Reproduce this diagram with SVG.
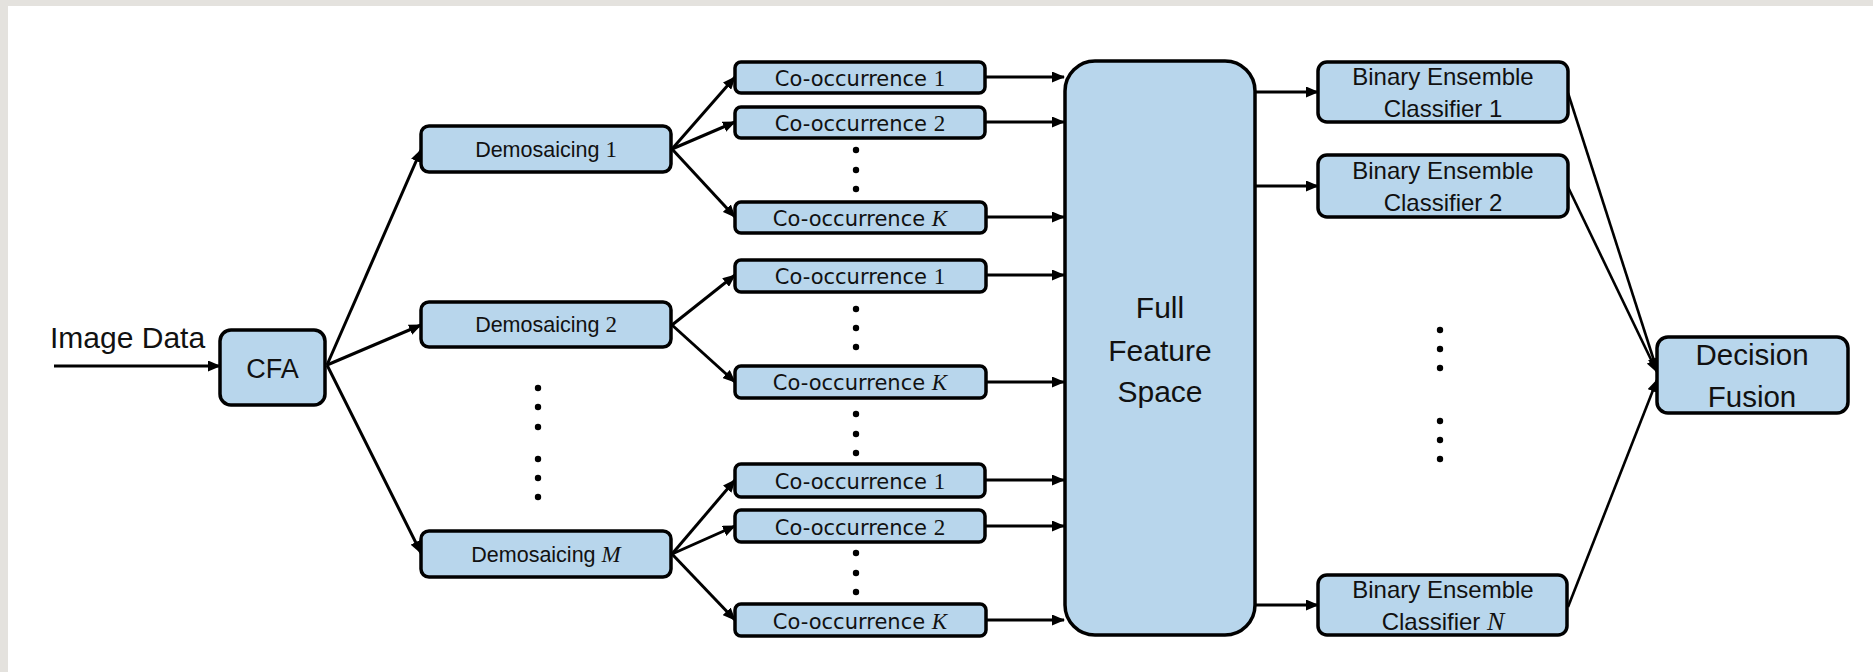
<svg xmlns="http://www.w3.org/2000/svg" width="1873" height="672" viewBox="0 0 1873 672">
<defs>
<marker id="ah" markerUnits="userSpaceOnUse" markerWidth="13" markerHeight="11" refX="12" refY="5.5" orient="auto">
<path d="M0,0 L13,5.5 L0,11 z" fill="#000"/>
</marker>
<style>
.box{fill:#b8d6ec;stroke:#000;stroke-width:3.5}
.ln{stroke:#000;stroke-width:3;fill:none;marker-end:url(#ah)}
.ln2{stroke:#000;stroke-width:2.6;fill:none;marker-end:url(#ah)}
.sans{font-family:"Liberation Sans",Arial,sans-serif;fill:#111}
.dv{font-family:"DejaVu Sans",Verdana,sans-serif;fill:#111}
.ser{font-family:"Liberation Serif","Times New Roman",serif}
.it{font-family:"Liberation Serif","Times New Roman",serif;font-style:italic}
.dot{fill:#000}
</style>
</defs>
<rect x="0" y="0" width="1873" height="672" fill="#ffffff"/>
<rect x="0" y="0" width="1873" height="6" fill="#e4e2de"/>
<rect x="0" y="0" width="8" height="672" fill="#e4e2de"/>

<g id="connectors">
<line class="ln" x1="54" y1="366" x2="220" y2="366"/>
<line class="ln" x1="327" y1="365" x2="421" y2="150"/>
<line class="ln" x1="327" y1="365" x2="421" y2="325"/>
<line class="ln" x1="327" y1="365" x2="421" y2="553"/>
<line class="ln" x1="672" y1="149" x2="735" y2="77"/>
<line class="ln" x1="672" y1="149" x2="735" y2="122"/>
<line class="ln" x1="672" y1="149" x2="735" y2="217"/>
<line class="ln" x1="672" y1="325" x2="735" y2="275"/>
<line class="ln" x1="672" y1="325" x2="735" y2="382"/>
<line class="ln" x1="672" y1="554" x2="735" y2="480"/>
<line class="ln" x1="672" y1="554" x2="735" y2="526"/>
<line class="ln" x1="672" y1="554" x2="735" y2="620"/>
<line class="ln" x1="986" y1="77" x2="1064" y2="77"/>
<line class="ln" x1="986" y1="122" x2="1064" y2="122"/>
<line class="ln" x1="986" y1="217" x2="1064" y2="217"/>
<line class="ln" x1="986" y1="275" x2="1064" y2="275"/>
<line class="ln" x1="986" y1="382" x2="1064" y2="382"/>
<line class="ln" x1="986" y1="480" x2="1064" y2="480"/>
<line class="ln" x1="986" y1="526" x2="1064" y2="526"/>
<line class="ln" x1="986" y1="620" x2="1064" y2="620"/>
<line class="ln" x1="1256" y1="92" x2="1318" y2="92"/>
<line class="ln" x1="1256" y1="186" x2="1318" y2="186"/>
<line class="ln" x1="1256" y1="605" x2="1318" y2="605"/>
<line class="ln2" x1="1568" y1="93" x2="1657" y2="370"/>
<line class="ln2" x1="1568" y1="187" x2="1657" y2="372"/>
<line class="ln2" x1="1568" y1="607" x2="1657" y2="380"/>
</g>

<g id="image-data"><text class="sans" x="50" y="348" font-size="30">Image Data</text></g>

<g id="cfa">
<rect class="box" x="220" y="330" width="105" height="75" rx="11"/>
<text class="sans" x="272.5" y="378" font-size="27" text-anchor="middle">CFA</text>
</g>

<g id="demosaicing-1">
<rect class="box" x="421" y="126" width="250" height="46" rx="8"/>
<text class="sans" x="546" y="157" font-size="21.5" text-anchor="middle">Demosaicing <tspan class="ser" font-size="23">1</tspan></text>
</g>
<g id="demosaicing-2">
<rect class="box" x="421" y="302" width="250" height="45" rx="8"/>
<text class="sans" x="546" y="332" font-size="21.5" text-anchor="middle">Demosaicing <tspan class="ser" font-size="23">2</tspan></text>
</g>
<g id="demosaicing-m">
<rect class="box" x="421" y="531" width="250" height="46" rx="8"/>
<text class="sans" x="546" y="562" font-size="21.5" text-anchor="middle">Demosaicing <tspan class="it" font-size="23">M</tspan></text>
</g>
<g id="demosaicing-dots">
<circle class="dot" cx="538" cy="388" r="3.2"/>
<circle class="dot" cx="538" cy="407" r="3.2"/>
<circle class="dot" cx="538" cy="427" r="3.2"/>
<circle class="dot" cx="538" cy="459" r="3.2"/>
<circle class="dot" cx="538" cy="478" r="3.2"/>
<circle class="dot" cx="538" cy="497" r="3.2"/>
</g>

<g id="cooc-1-1">
<rect class="box" x="735" y="62" width="250" height="31" rx="6"/>
<text class="dv" x="860" y="86" font-size="21" text-anchor="middle">Co-occurrence <tspan class="ser" font-size="23">1</tspan></text>
</g>
<g id="cooc-1-2">
<rect class="box" x="735" y="107" width="250" height="31" rx="6"/>
<text class="dv" x="860" y="131" font-size="21" text-anchor="middle">Co-occurrence <tspan class="ser" font-size="23">2</tspan></text>
</g>
<g id="cooc-1-k">
<rect class="box" x="735" y="202" width="251" height="31" rx="6"/>
<text class="dv" x="860" y="226" font-size="21" text-anchor="middle">Co-occurrence <tspan class="it" font-size="23">K</tspan></text>
</g>
<g id="cooc-2-1">
<rect class="box" x="735" y="260" width="251" height="32" rx="6"/>
<text class="dv" x="860" y="284" font-size="21" text-anchor="middle">Co-occurrence <tspan class="ser" font-size="23">1</tspan></text>
</g>
<g id="cooc-2-k">
<rect class="box" x="735" y="366" width="251" height="32" rx="6"/>
<text class="dv" x="860" y="390" font-size="21" text-anchor="middle">Co-occurrence <tspan class="it" font-size="23">K</tspan></text>
</g>
<g id="cooc-m-1">
<rect class="box" x="735" y="464" width="250" height="33" rx="6"/>
<text class="dv" x="860" y="489" font-size="21" text-anchor="middle">Co-occurrence <tspan class="ser" font-size="23">1</tspan></text>
</g>
<g id="cooc-m-2">
<rect class="box" x="735" y="510" width="250" height="32" rx="6"/>
<text class="dv" x="860" y="535" font-size="21" text-anchor="middle">Co-occurrence <tspan class="ser" font-size="23">2</tspan></text>
</g>
<g id="cooc-m-k">
<rect class="box" x="735" y="604" width="251" height="32" rx="6"/>
<text class="dv" x="860" y="629" font-size="21" text-anchor="middle">Co-occurrence <tspan class="it" font-size="23">K</tspan></text>
</g>
<g id="cooc-dots">
<circle class="dot" cx="856" cy="150" r="3.2"/>
<circle class="dot" cx="856" cy="170" r="3.2"/>
<circle class="dot" cx="856" cy="189" r="3.2"/>
<circle class="dot" cx="856" cy="309" r="3.2"/>
<circle class="dot" cx="856" cy="328" r="3.2"/>
<circle class="dot" cx="856" cy="347" r="3.2"/>
<circle class="dot" cx="856" cy="414" r="3.2"/>
<circle class="dot" cx="856" cy="434" r="3.2"/>
<circle class="dot" cx="856" cy="453" r="3.2"/>
<circle class="dot" cx="856" cy="553" r="3.2"/>
<circle class="dot" cx="856" cy="573" r="3.2"/>
<circle class="dot" cx="856" cy="592" r="3.2"/>
</g>

<g id="full-feature-space">
<rect class="box" x="1065" y="61" width="190" height="574" rx="30"/>
<text class="sans" x="1160" y="318" font-size="30" text-anchor="middle">Full</text>
<text class="sans" x="1160" y="361" font-size="30" text-anchor="middle">Feature</text>
<text class="sans" x="1160" y="402" font-size="30" text-anchor="middle">Space</text>
</g>

<g id="classifier-1">
<rect class="box" x="1318" y="62" width="250" height="60" rx="9"/>
<text class="sans" x="1443" y="85" font-size="24" text-anchor="middle">Binary Ensemble</text>
<text class="sans" x="1443" y="117" font-size="24" text-anchor="middle">Classifier 1</text>
</g>
<g id="classifier-2">
<rect class="box" x="1318" y="155" width="250" height="62" rx="9"/>
<text class="sans" x="1443" y="179" font-size="24" text-anchor="middle">Binary Ensemble</text>
<text class="sans" x="1443" y="211" font-size="24" text-anchor="middle">Classifier 2</text>
</g>
<g id="classifier-n">
<rect class="box" x="1318" y="575" width="249" height="60" rx="9"/>
<text class="sans" x="1443" y="598" font-size="24" text-anchor="middle">Binary Ensemble</text>
<text class="sans" x="1443" y="630" font-size="24" text-anchor="middle">Classifier <tspan class="it" font-size="26">N</tspan></text>
</g>
<g id="classifier-dots">
<circle class="dot" cx="1440" cy="330" r="3.2"/>
<circle class="dot" cx="1440" cy="349" r="3.2"/>
<circle class="dot" cx="1440" cy="368" r="3.2"/>
<circle class="dot" cx="1440" cy="421" r="3.2"/>
<circle class="dot" cx="1440" cy="440" r="3.2"/>
<circle class="dot" cx="1440" cy="459" r="3.2"/>
</g>

<g id="decision-fusion">
<rect class="box" x="1657" y="337" width="191" height="76" rx="11"/>
<text class="sans" x="1752" y="365" font-size="29.5" text-anchor="middle">Decision</text>
<text class="sans" x="1752" y="407" font-size="29.5" text-anchor="middle">Fusion</text>
</g>
</svg>
